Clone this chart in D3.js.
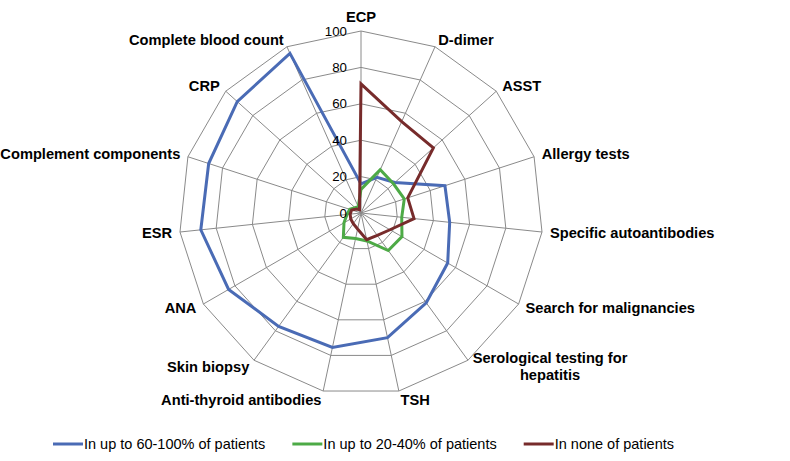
<!DOCTYPE html>
<html>
<head>
<meta charset="utf-8">
<script src="https://cdn.jsdelivr.net/npm/d3@7"></script>
<style>
  html, body { margin: 0; padding: 0; background: #ffffff; }
  svg { display: block; }
  text { font-family: "Liberation Sans", Arial, sans-serif; fill: #000; }
</style>
</head>
<body>
<svg id="chart" width="790" height="461"></svg>
<script>
// ---------- data ----------
const categories = [
  "ECP", "D-dimer", "ASST", "Allergy tests", "Specific autoantibodies",
  "Search for malignancies", "Serological testing for hepatitis", "TSH",
  "Anti-thyroid antibodies", "Skin biopsy", "ANA", "ESR",
  "Complement components", "CRP", "Complete blood count"
];
const seriesNames = [
  "In up to 60-100% of patients",
  "In up to 20-40% of patients",
  "In none of patients"
];
const highValues = [16, 21.5, 25, 48.5, 49, 55, 61, 70, 75.5, 77, 84, 88.5, 88, 91.5, 96];
const midValues  = [13, 26, 24, 25, 22.5, 26, 25.5, 15.7, 14.3, 16.5, 10.8, 7.7, 6.5, 4.4, 3.8];
const noneValues = [71, 55, 53.5, 27, 29.3, 18.4, 15.2, 15, 9, 7.2, 6.5, 6, 5.4, 3.2, 2];
const tickValues = [0, 20, 40, 60, 80, 100];
const seriesColors = ["#4A6BB5", "#4DAA46", "#772B2B"];

// ---------- layout ----------
const svg = d3.select("#chart");
const cx = 361, cy = 213, R = 182;
const n = categories.length;
const r = d3.scaleLinear().domain([0, 100]).range([0, R]);
const ang = d3.scaleLinear().domain([0, n]).range([0, 2 * Math.PI]);

const g = svg.append("g").attr("transform", `translate(${cx},${cy})`);

// grid rings
const ringLine = d3.lineRadial()
  .angle((d, i) => ang(i))
  .radius(d => r(d))
  .curve(d3.curveLinearClosed);

g.selectAll("path.ring")
  .data(tickValues.filter(t => t > 0))
  .join("path")
  .attr("class", "ring")
  .attr("d", t => ringLine(categories.map(() => t)))
  .attr("fill", "none")
  .attr("stroke", "#8a8a8a")
  .attr("stroke-width", 1);

// spokes
g.selectAll("line.spoke")
  .data(categories)
  .join("line")
  .attr("class", "spoke")
  .attr("x1", 0).attr("y1", 0)
  .attr("x2", (d, i) => r(100) * Math.sin(ang(i)))
  .attr("y2", (d, i) => -r(100) * Math.cos(ang(i)))
  .attr("stroke", "#8a8a8a")
  .attr("stroke-width", 1);

// series
const seriesLine = d3.lineRadial()
  .angle((d, i) => ang(i))
  .radius(d => r(d))
  .curve(d3.curveLinearClosed);

const allSeries = [highValues, midValues, noneValues];
g.selectAll("path.series")
  .data(allSeries)
  .join("path")
  .attr("class", "series")
  .attr("d", d => seriesLine(d))
  .attr("fill", "none")
  .attr("stroke", (d, i) => seriesColors[i])
  .attr("stroke-width", 3)
  .attr("stroke-linejoin", "miter");

// tick labels
g.selectAll("text.tick")
  .data(tickValues)
  .join("text")
  .attr("class", "tick")
  .attr("x", -14)
  .attr("y", t => -r(t))
  .attr("dy", "0.35em")
  .attr("text-anchor", "end")
  .style("font-size", "13.3px")
  .text(t => t);

// category labels
const labelSize = 14.67;
const maxLabelW = 200;
const measure = svg.append("text").style("font-size", labelSize + "px").style("font-weight", "bold");
function textW(s) { measure.text(s); return measure.node().getComputedTextLength(); }

categories.forEach((name, i) => {
  const a = ang(i);
  const s = Math.sin(a), c = Math.cos(a);
  const ex = r(100) * s, ey = -r(100) * c;
  let lx = ex + 8 * s;
  let ly = ey - 8 * c;
  if (c > 0.99) ly -= 6;
  else if (c < -0.95) ly += 1.5;
  // wrap
  const words = name.split(" ");
  const lines = [];
  let cur = "";
  words.forEach(w => {
    const test = cur ? cur + " " + w : w;
    if (cur && textW(test) > maxLabelW) { lines.push(cur); cur = w; }
    else cur = test;
  });
  lines.push(cur);
  const blockW = d3.max(lines, l => textW(l));
  let anchor, x;
  if (Math.abs(s) < 0.05) { anchor = "middle"; x = lx; }
  else if (s > 0) {
    if (lines.length > 1) { anchor = "middle"; x = lx + blockW / 2; }
    else { anchor = "start"; x = lx; }
  } else {
    if (lines.length > 1) { anchor = "middle"; x = lx - blockW / 2; }
    else { anchor = "end"; x = lx; }
  }
  const lh = 17;
  const t = g.append("text")
    .attr("text-anchor", anchor)
    .style("font-size", labelSize + "px")
    .style("font-weight", "bold");
  lines.forEach((l, k) => {
    t.append("tspan")
      .attr("x", x)
      .attr("y", ly + (k - (lines.length - 1) / 2) * lh)
      .attr("dy", "0.35em")
      .text(l);
  });
});
measure.remove();

// legend
const legendY = 444;
const legendFont = 14.5;
const lg = svg.append("g");
const items = lg.selectAll("g.item").data(seriesNames).join("g").attr("class", "item");
items.append("line")
  .attr("x1", 0).attr("x2", 30).attr("y1", 0).attr("y2", 0)
  .attr("stroke", (d, i) => seriesColors[i])
  .attr("stroke-width", 3);
items.append("text")
  .attr("x", 31)
  .attr("dy", "0.35em")
  .style("font-size", legendFont + "px")
  .text(d => d);
let xpos = 0;
const widths = [];
items.each(function() { widths.push(this.getBBox().width); });
items.attr("transform", (d, i) => {
  const tr = `translate(${xpos},0)`;
  xpos += widths[i] + 27;
  return tr;
});
const totalW = xpos - 27;
lg.attr("transform", `translate(${363.5 - totalW / 2},${legendY})`);
</script>
</body>
</html>
